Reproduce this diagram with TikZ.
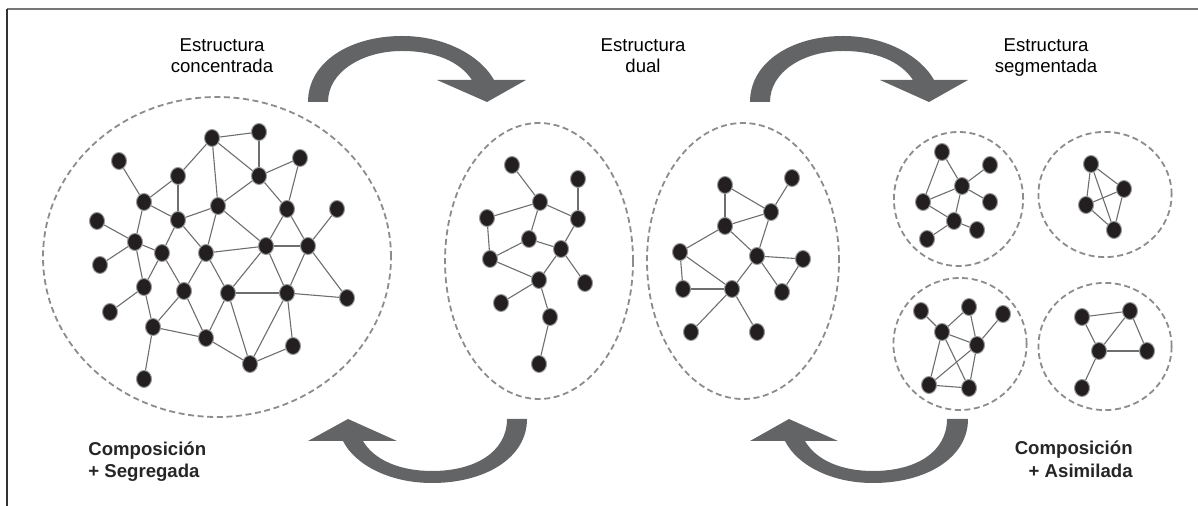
\documentclass[tikz,border=0pt]{standalone}
\usepackage{fontspec}
\setmainfont{Liberation Sans}
\usetikzlibrary{shapes.geometric}
\definecolor{nodefill}{HTML}{231F20}
\definecolor{nodeedge}{HTML}{9A9A9A}
\definecolor{linkgray}{HTML}{6D6E70}
\definecolor{dashgray}{HTML}{8C8C8C}
\definecolor{arrowgray}{HTML}{636466}
\definecolor{framegray}{HTML}{777777}
\tikzset{
  v/.style={ellipse, fill=nodefill, draw=nodeedge, line width=0.5pt,
            minimum width=7.5pt, minimum height=8.5pt, inner sep=0pt},
  link/.style={draw=linkgray, line width=0.55pt},
  group/.style={draw=dashgray, line width=0.9pt, dash pattern=on 3pt off 1.8pt},
  bigarrow/.style={fill=arrowgray, draw=none},
  label/.style={font=\fontsize{9.3}{10.5}\selectfont, inner sep=0pt},
  boldlabel/.style={font=\fontsize{9.3}{10.5}\selectfont\bfseries, inner sep=0pt, text=black!85}
}
\begin{document}
\begin{tikzpicture}[x=0.5pt, y=-0.5pt]
\useasboundingbox (0,0) rectangle (1198,506);

% frame
\draw[framegray, line width=0.8pt] (7,9) -- (1198,9);
\draw[black!80, line width=0.6pt] (7,9) -- (7,506);

% dashed groups
\draw[group] (217,257) ellipse [x radius=87pt, y radius=80pt];
\draw[group] (539,261) ellipse [x radius=47pt, y radius=69pt];
\draw[group] (743,261) ellipse [x radius=48pt, y radius=69pt];
\draw[group] (958.5,199) ellipse [x radius=32.3pt, y radius=33.5pt];
\draw[group] (1105,194.5) ellipse [x radius=33.3pt, y radius=31.3pt];
\draw[group] (960,344) ellipse [x radius=33.3pt, y radius=33pt];
\draw[group] (1105,346.5) ellipse [x radius=33.3pt, y radius=31.8pt];

% concentrated network
\foreach \n/\x/\y in {g1/212/138, g2/259/132, g3/119/161, g4/300/158, g5/178/176,
  g6/259/176, g7/144/202, g8/218/206, g9/287/209, g10/337/209, g11/97/221,
  g12/178/220, g13/135/242, g14/162/253, g15/206/253, g16/266/246, g17/308/246,
  g18/100/265, g19/144/287, g20/184/291, g21/228/293, g22/287/293, g23/347/298,
  g24/110/312, g25/153/327, g26/206/338, g27/293/346, g28/250/364, g29/144/379}
  \node[v] (\n) at (\x,\y) {};
\foreach \a/\b in {g1/g2, g1/g5, g1/g8, g1/g6, g2/g6, g6/g4, g6/g8, g6/g9, g4/g9,
  g3/g7, g5/g7, g5/g12, g7/g12, g12/g8, g7/g13, g11/g13, g13/g18, g13/g14,
  g12/g14, g12/g15, g8/g15, g8/g16, g9/g16, g9/g17, g10/g17, g15/g16, g16/g17,
  g13/g19, g14/g19, g14/g20, g15/g20, g15/g21, g16/g21, g16/g22, g17/g22,
  g17/g23, g22/g23, g21/g22, g19/g24, g19/g25, g20/g25, g20/g26, g21/g26,
  g21/g28, g22/g28, g22/g27, g27/g28, g25/g26, g26/g28, g25/g29}
  \draw[link] (\a) -- (\b);

% dual network, left part
\foreach \n/\x/\y in {d1/512/165, d2/578/179, d3/540/202, d4/487/218, d5/578/219,
  d6/529/239, d7/561/249, d8/490/259, d9/539/280, d10/585/283, d11/501/303,
  d12/550/317, d13/539/364}
  \node[v] (\n) at (\x,\y) {};
\foreach \a/\b in {d1/d3, d3/d4, d3/d5, d3/d6, d2/d5, d5/d7, d4/d8, d6/d8, d6/d7,
  d7/d9, d7/d10, d8/d9, d9/d11, d9/d12, d12/d13}
  \draw[link] (\a) -- (\b);

% dual network, right part
\foreach \n/\x/\y in {e1/725/185, e2/792/178, e3/771/212, e4/725/226, e5/680/252,
  e6/757/256, e7/803/259, e8/683/289, e9/732/289, e10/782/292, e11/691/332,
  e12/757/332}
  \node[v] (\n) at (\x,\y) {};
\foreach \a/\b in {e1/e3, e1/e4, e2/e3, e3/e4, e3/e6, e4/e5, e4/e6, e5/e8, e5/e9,
  e6/e9, e6/e7, e6/e10, e7/e10, e8/e9, e9/e11, e9/e12}
  \draw[link] (\a) -- (\b);

% segmented networks
\foreach \n/\x/\y in {p1/942/152, p2/990/165, p3/962/186, p4/923/202, p5/990/202,
  p6/954/221, p7/977/230, p8/927/239}
  \node[v] (\n) at (\x,\y) {};
\foreach \a/\b in {p1/p4, p1/p3, p2/p3, p3/p4, p3/p5, p3/p6, p4/p6, p6/p7, p6/p8}
  \draw[link] (\a) -- (\b);

\foreach \n/\x/\y in {q1/1091/164, q2/1124/189, q3/1086/205, q4/1114/230}
  \node[v] (\n) at (\x,\y) {};
\foreach \a/\b in {q1/q3, q1/q2, q1/q4, q3/q2, q3/q4, q2/q4}
  \draw[link] (\a) -- (\b);

\foreach \n/\x/\y in {r1/921/311, r2/969/307, r3/1003/314, r4/942/332, r5/977/345,
  r6/929/385, r7/969/388}
  \node[v] (\n) at (\x,\y) {};
\foreach \a/\b in {r1/r4, r4/r2, r2/r5, r3/r5, r4/r5, r4/r6, r4/r7, r5/r6, r6/r7, r5/r7}
  \draw[link] (\a) -- (\b);

\foreach \n/\x/\y in {s1/1082/317, s2/1130/311, s3/1099/351, s4/1147/351, s5/1082/388}
  \node[v] (\n) at (\x,\y) {};
\foreach \a/\b in {s1/s2, s1/s3, s2/s3, s2/s4, s3/s4, s3/s5}
  \draw[link] (\a) -- (\b);

% curved transition arrows
\fill[bigarrow] (308,102) .. controls (308,62) and (350,36) .. (402,36)
  .. controls (448,36) and (482,58) .. (494,80) -- (526,80) -- (487,102)
  -- (437,80) -- (472,80) .. controls (460,62) and (436,51) .. (402,51)
  .. controls (362,51) and (328,72) .. (328,102) -- cycle;
\fill[bigarrow] (750,102) .. controls (750,62) and (792,36) .. (843,36)
  .. controls (888,36) and (922,58) .. (934,80) -- (968,80) -- (929,102)
  -- (880,80) -- (913,80) .. controls (901,62) and (877,51) .. (843,51)
  .. controls (803,51) and (770,72) .. (770,102) -- cycle;
\fill[bigarrow] (527,419) .. controls (527,458) and (485,483) .. (432,483)
  .. controls (390,483) and (355,465) .. (343,441) -- (308,441) -- (348,419)
  -- (397,441) -- (363,441) .. controls (374,460) and (400,471) .. (432,471)
  .. controls (475,471) and (507,452) .. (507,419) -- cycle;
\fill[bigarrow] (968,419) .. controls (968,458) and (926,483) .. (873,483)
  .. controls (831,483) and (797,465) .. (785,441) -- (750,441) -- (789,419)
  -- (838,441) -- (805,441) .. controls (816,460) and (841,471) .. (873,471)
  .. controls (916,471) and (947,452) .. (947,419) -- cycle;

% labels
\node[label, anchor=base] (t1a) at (222,52) {Estructura};
\node[label, anchor=base] (t1b) at (222,73) {concentrada};
\node[label, anchor=base] (t2a) at (643,52) {Estructura};
\node[label, anchor=base] (t2b) at (643,73) {dual};
\node[label, anchor=base] (t3a) at (1046,52) {Estructura};
\node[label, anchor=base] (t3b) at (1046,73) {segmentada};
\node[boldlabel, anchor=base west] (c1a) at (88,456) {Composición};
\node[boldlabel, anchor=base west] (c1b) at (88,478) {+ Segregada};
\node[boldlabel, anchor=base east] (c2a) at (1133,455) {Composición};
\node[boldlabel, anchor=base east] (c2b) at (1133,478) {+ Asimilada};
\end{tikzpicture}
\end{document}
